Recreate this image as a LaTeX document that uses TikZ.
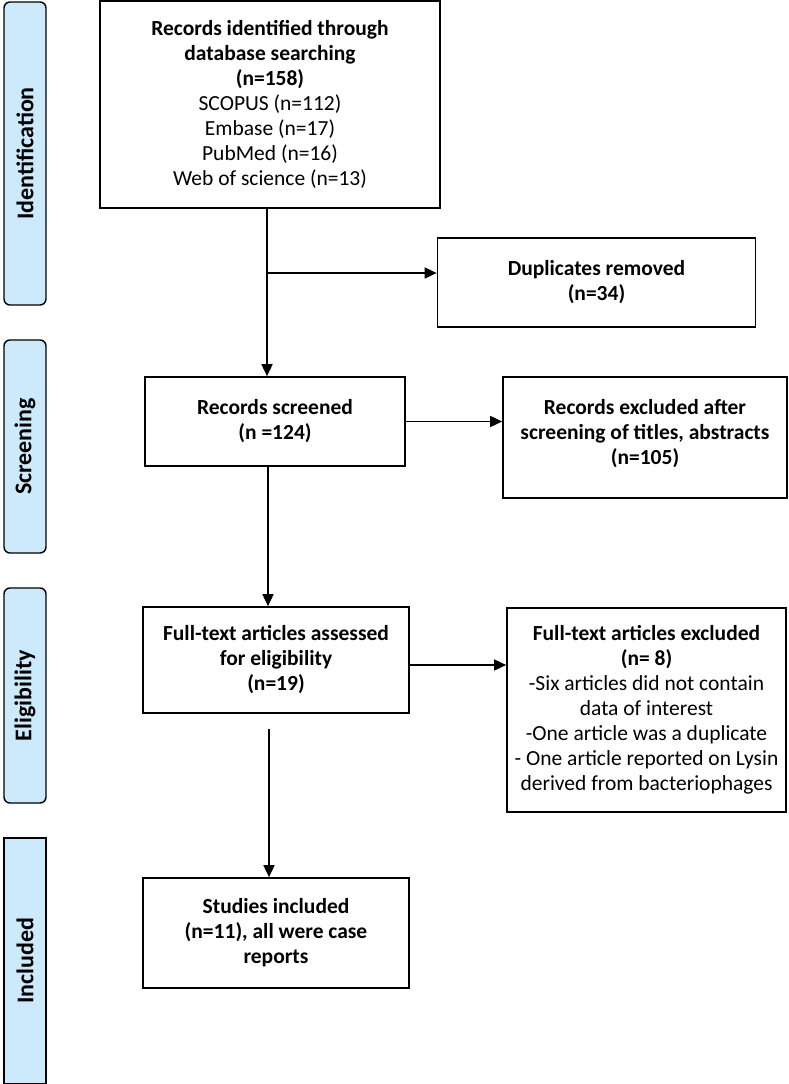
\documentclass[tikz,border=0pt]{standalone}
\usepackage{fontspec}
\setmainfont{Carlito}
\usetikzlibrary{arrows.meta}
\definecolor{tabblue}{RGB}{205,234,253}
\begin{document}
\begin{tikzpicture}[x=1pt,y=-1pt,
  box/.style={rectangle,draw,line width=1.7pt,align=center,inner sep=0pt,font=\fontsize{21.5}{25}\selectfont},
  tab/.style={rectangle,draw,line width=1.4pt,fill=tabblue,rounded corners=6pt,minimum width=42pt,inner sep=0pt},
  tablabel/.style={rotate=90,font=\fontsize{24}{28}\selectfont\bfseries},
  flow/.style={line width=1.7pt,-{Triangle[length=12pt,width=11pt]}}]
\useasboundingbox (0,0) rectangle (788,1084);
\node [tab,minimum height=303pt] (t1) at (25,153.5) {};
\node [tablabel] (l1) at (t1.center) {Identification};
\node [tab,minimum height=213pt] (t2) at (25,446.5) {};
\node [tablabel] (l2) at (t2.center) {Screening};
\node [tab,minimum height=215pt] (t3) at (25,695.5) {};
\node [tablabel] (l3) at (t3.center) {Eligibility};
\node [tab,rounded corners=0pt,minimum height=246pt] (t4) at (25,961) {};
\node [tablabel] (l4) at (t4.center) {Included};
\node [box,minimum width=340pt,minimum height=207pt] (ident) at (270,104.5)
  {\textbf{Records identified through}\\ \textbf{database searching}\\ \textbf{(n=158)}\\
   SCOPUS (n=112)\\ Embase (n=17)\\ PubMed (n=16)\\ Web of science (n=13)};
\node [box,minimum width=318pt,minimum height=89pt] (dup) at (596.5,282.5)
  {\textbf{Duplicates removed}\\ \textbf{(n=34)}};
\node [box,minimum width=260pt,minimum height=89pt] (screen) at (275,421.5)
  {\textbf{Records screened}\\ \textbf{(n =124)}};
\node [box,minimum width=284pt,minimum height=121pt] (recexcl) at (645,437.5)
  {\textbf{Records excluded after}\\ \textbf{screening of titles, abstracts}\\ \textbf{(n=105)}\\[-13pt]};
\node [box,minimum width=266pt,minimum height=106pt] (elig) at (276,660)
  {\textbf{Full-text articles assessed}\\ \textbf{for eligibility}\\ \textbf{(n=19)}};
\node [box,minimum width=279pt,minimum height=204pt] (ftexcl) at (646.5,710)
  {\textbf{Full-text articles excluded}\\ \textbf{(n= 8)}\\ -Six articles did not contain\\ data of interest\\
   -One article was a duplicate\\ - One article reported on Lysin\\ derived from bacteriophages};
\node [box,minimum width=266pt,minimum height=110pt] (incl) at (276,933)
  {\textbf{Studies included}\\ \textbf{(n=11), all were case}\\ \textbf{reports}};
\coordinate (c1) at (267,273);
\coordinate (c2) at (268,0);
\coordinate (c3) at (269,729);
\draw [flow] (ident.south -| c1) -- (screen.north -| c1);
\draw [flow] (c1) -- (c1 -| dup.west);
\draw [flow] (screen.east) -- (screen.east -| recexcl.west);
\draw [flow] (screen.south -| c2) -- (elig.north -| c2);
\draw [flow] ([yshift=-5pt]elig.east) -- ([yshift=-5pt]elig.east -| ftexcl.west);
\draw [flow] (c3) -- (incl.north -| c3);
\end{tikzpicture}
\end{document}
